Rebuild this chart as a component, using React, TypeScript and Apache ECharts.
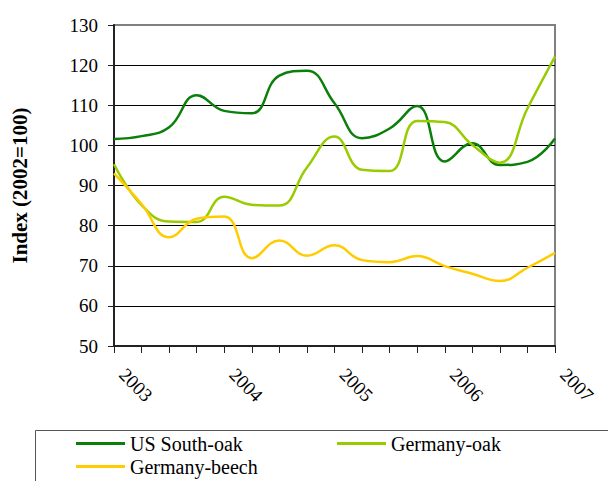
import React, { useEffect, useRef } from "react";
import * as echarts from "echarts";

const quarters = [
  "2003 Q1", "2003 Q2", "2003 Q3", "2003 Q4",
  "2004 Q1", "2004 Q2", "2004 Q3", "2004 Q4",
  "2005 Q1", "2005 Q2", "2005 Q3", "2005 Q4",
  "2006 Q1", "2006 Q2", "2006 Q3", "2006 Q4",
  "2007 Q1",
];

const usSouthOak = [101.6, 102.3, 104.5, 112.5, 108.6, 108.0, 117.4, 118.6, 110.5, 101.8, 104.2, 109.8, 96.0, 100.5, 95.1, 95.9, 101.7];
const germanyOak = [95.3, 85.1, 81.0, 80.9, 87.2, 85.2, 85.0, 94.5, 102.2, 93.9, 93.6, 106.1, 105.8, 100.1, 95.7, 109.2, 122.1];
const germanyBeech = [93.0, 85.4, 77.1, 81.7, 82.3, 71.9, 76.3, 72.5, 75.1, 71.4, 70.9, 72.4, 69.9, 68.0, 66.2, 69.5, 73.2];

const seriesNames = ["US South-oak", "Germany-oak", "Germany-beech"];
const seriesColors = ["#0a7f0a", "#99cc00", "#ffcc00"];

const FONT = "'Liberation Serif', 'DejaVu Serif', serif";

export default function App() {
  const ref = useRef<HTMLDivElement>(null);

  useEffect(() => {
    if (!ref.current) return;
    const chart = echarts.init(ref.current, null, { renderer: "svg" });
    const dataSets = [usSouthOak, germanyOak, germanyBeech];
    const splitColors = ["#000", "#000", "#000", "#000", "#000", "#000", "#000", "#000", "#808080"];
    chart.setOption({
      animation: false,
      backgroundColor: "#fff",
      grid: {
        left: 114,
        right: 53,
        top: 25,
        bottom: 135,
        show: true,
        borderColor: "#808080",
        borderWidth: 2,
        backgroundColor: "transparent",
      },
      xAxis: {
        type: "category",
        data: quarters,
        boundaryGap: false,
        axisLine: { show: true, lineStyle: { color: "#222", width: 2 } },
        axisTick: { show: true, interval: 0, length: 7, lineStyle: { color: "#222", width: 1 } },
        axisLabel: {
          interval: (index: number) => index % 4 === 0,
          formatter: (v: string) => v.slice(0, 4),
          rotate: -45,
          margin: 17,
          padding: [0, 0, 0, 12],
          fontSize: 19,
          fontFamily: FONT,
          color: "#000",
        },
        splitLine: { show: false },
      },
      yAxis: {
        type: "value",
        min: 50,
        max: 130,
        interval: 10,
        name: "Index (2002=100)",
        nameLocation: "middle",
        nameGap: 84,
        nameTextStyle: { fontSize: 21, fontWeight: "bold", fontFamily: FONT, color: "#000" },
        axisLine: { show: true, lineStyle: { color: "#222", width: 2 } },
        axisTick: { show: true, length: 6, lineStyle: { color: "#222", width: 1 } },
        axisLabel: { fontSize: 19, fontFamily: FONT, color: "#000", margin: 16 },
        splitLine: { show: true, lineStyle: { color: splitColors, width: 1 } },
      },
      legend: {
        data: seriesNames,
        left: 76,
        top: 432,
        width: 540,
        padding: 0,
        itemGap: 0,
        itemWidth: 49,
        itemHeight: 3,
        icon: "rect",
        textStyle: { fontSize: 20, fontFamily: FONT, color: "#000", width: 207, lineHeight: 23 },
      },
      graphic: [
        {
          type: "rect",
          shape: { x: 35.5, y: 430.5, width: 620, height: 80 },
          style: { fill: "none", stroke: "#555", lineWidth: 1 },
          z: -1,
        },
      ],
      series: seriesNames.map((name, i) => ({
        name,
        type: "line",
        data: dataSets[i],
        smooth: 0.45,
        symbol: "none",
        showSymbol: false,
        color: seriesColors[i],
        lineStyle: { color: seriesColors[i], width: 2.5 },
      })),
    });
    return () => chart.dispose();
  }, []);

  return (
    <div
      ref={ref}
      style={{ position: "absolute", left: 0, top: 0, width: 608, height: 481 }}
    />
  );
}
